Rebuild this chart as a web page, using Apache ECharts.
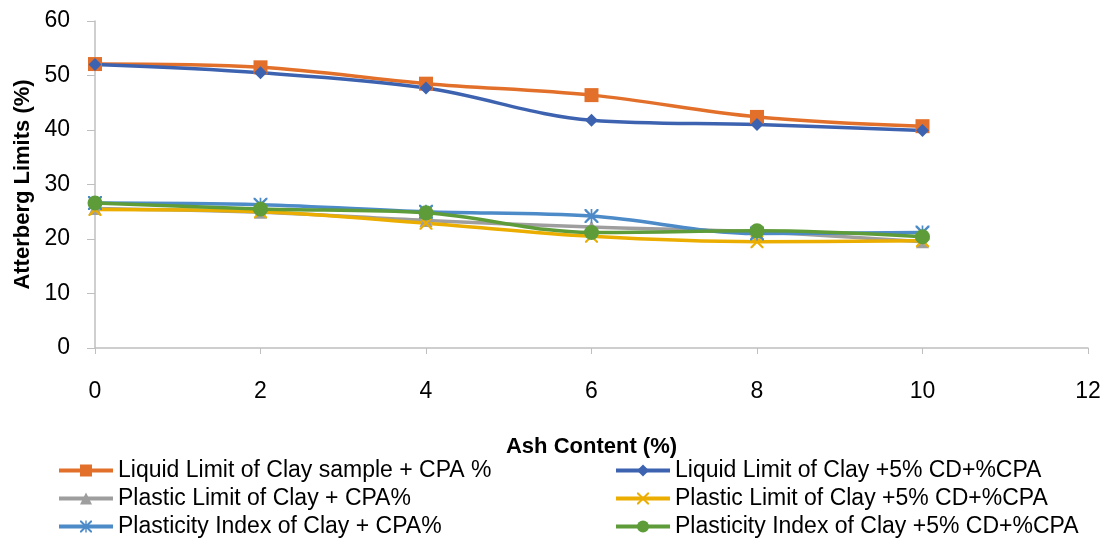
<!DOCTYPE html>
<html>
<head>
<meta charset="utf-8">
<script src="https://cdn.jsdelivr.net/npm/echarts@6/dist/echarts.min.js"></script>
<style>
    html, body { margin: 0; padding: 0; background: #fff; }
    #chart { width: 1110px; height: 540px; }
</style>
</head>
<body>
<div id="chart"></div>
<script>
// ash content (%)
var ashContent = [0, 2, 4, 6, 8, 10];

var seriesNames = [
    'Liquid Limit of Clay sample + CPA %',
    'Liquid Limit of Clay +5% CD+%CPA',
    'Plastic Limit of Clay + CPA%',
    'Plastic Limit of Clay +5% CD+%CPA',
    'Plasticity Index of Clay + CPA%',
    'Plasticity Index of Clay +5% CD+%CPA'
];

var liquidClay = [52.1, 51.5, 48.5, 46.4, 42.4, 40.7];
var liquidClayCd = [52.0, 50.5, 47.7, 41.8, 41.0, 39.9];
var plasticClay = [25.6, 24.9, 23.4, 22.2, 21.3, 19.5];
var plasticClayCd = [25.4, 25.0, 22.9, 20.5, 19.5, 19.7];
var indexClay = [26.6, 26.3, 25.0, 24.2, 21.0, 21.2];
var indexClayCd = [26.6, 25.5, 24.8, 21.2, 21.5, 20.4];

var colors = ['#E2702A', '#3D63B0', '#9E9E9E', '#EBAE00', '#4C8AC8', '#5E9C3A'];

// X shaped marker and asterisk marker (thin filled paths)
var crossPath = 'path://M0,0L1.2,0L5,3.8L8.8,0L10,0L10,1.2L6.2,5L10,8.8L10,10L8.8,10L5,6.2L1.2,10L0,10L0,8.8L3.8,5L0,1.2Z';
var starPath = crossPath.replace('Z', 'ZM4.4,0L5.6,0L5.6,10L4.4,10Z');

function pairs(values) {
    return ashContent.map(function (x, i) {
        return [x, values[i]];
    });
}

var symbols = ['rect', 'diamond', 'triangle', crossPath, starPath, 'circle'];
var sizes = [14, 13, 13, 13, 14, 15];
var dataSets = [liquidClay, liquidClayCd, plasticClay, plasticClayCd, indexClay, indexClayCd];

var seriesData = dataSets.map(function (vals, i) {
    return {
        name: seriesNames[i],
        type: 'line',
        smooth: 0.35,
        data: pairs(vals),
        symbol: symbols[i],
        symbolSize: sizes[i],
        lineStyle: { width: 3.5, color: colors[i] },
        itemStyle: { color: colors[i] }
    };
});

var textFont = 'Liberation Sans';
var legendText = { fontFamily: textFont, fontSize: 23, color: '#000' };

var option = {
    animation: false,
    color: colors,
    grid: {
        left: 95,
        right: 22,
        top: 21,
        bottom: 192
    },
    legend: [
        {
            left: 52,
            top: 454,
            height: 90,
            orient: 'vertical',
            itemWidth: 54,
            itemHeight: 15,
            itemGap: 5,
            lineStyle: { width: 4 },
            textStyle: legendText,
            data: [seriesNames[0], seriesNames[2], seriesNames[4]]
        },
        {
            left: 609,
            top: 454,
            height: 90,
            orient: 'vertical',
            itemWidth: 54,
            itemHeight: 15,
            itemGap: 5,
            lineStyle: { width: 4 },
            textStyle: legendText,
            data: [seriesNames[1], seriesNames[3], seriesNames[5]]
        }
    ],
    xAxis: {
        type: 'value',
        min: 0,
        max: 12,
        interval: 2,
        name: 'Ash Content (%)',
        nameLocation: 'middle',
        nameGap: 88,
        nameTextStyle: { fontFamily: textFont, fontSize: 22, fontWeight: 'bold', color: '#000' },
        axisLine: { show: true, lineStyle: { color: '#BFBFBF', width: 1.5 } },
        axisTick: { show: true, length: 6, lineStyle: { color: '#BFBFBF' } },
        axisLabel: { fontFamily: textFont, fontSize: 23, color: '#000', margin: 32 },
        splitLine: { show: false }
    },
    yAxis: {
        type: 'value',
        min: 0,
        max: 60,
        interval: 10,
        name: 'Atterberg Limits (%)',
        nameLocation: 'middle',
        nameGap: 60,
        nameRotate: 90,
        nameTextStyle: { fontFamily: textFont, fontSize: 22, fontWeight: 'bold', color: '#000' },
        axisLine: { show: true, lineStyle: { color: '#BFBFBF', width: 1.5 } },
        axisTick: { show: true, length: 8, lineStyle: { color: '#BFBFBF' } },
        axisLabel: { fontFamily: textFont, fontSize: 23, color: '#000', margin: 25 },
        splitLine: { show: false }
    },
    series: seriesData
};

var chart = echarts.init(document.getElementById('chart'));
chart.setOption(option);
</script>
</body>
</html>
